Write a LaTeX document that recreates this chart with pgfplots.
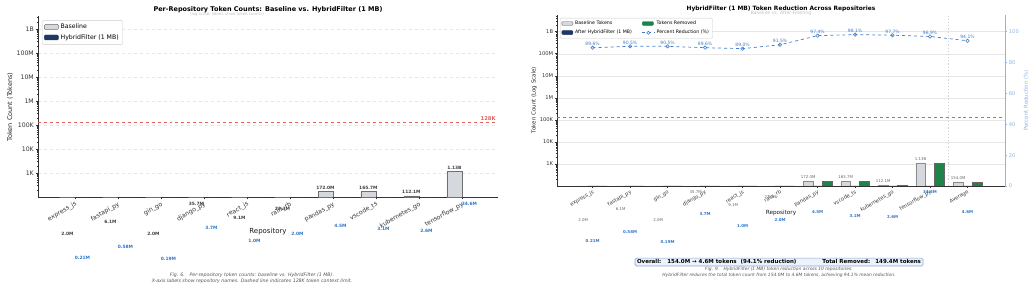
\documentclass[border=0pt]{standalone}
\usepackage{pgfplots}
\pgfplotsset{compat=1.18}
\usepackage{fontspec}
\setmainfont{DejaVu Sans}
\definecolor{bgrey}{HTML}{D5D8DC}
\definecolor{bedge}{HTML}{6E6E6E}
\definecolor{navy}{HTML}{1F3864}
\definecolor{dgreen}{HTML}{1E8449}
\definecolor{lblue}{HTML}{2E75C8}
\definecolor{pblue}{HTML}{3F7CCB}
\definecolor{rblue}{HTML}{8DB4E2}
\definecolor{rred}{HTML}{E06060}
\definecolor{capgrey}{HTML}{555555}
\definecolor{gridc}{HTML}{E6E6E6}
\definecolor{boxfill}{HTML}{EEF3FB}
\definecolor{boxedge}{HTML}{7FA6D8}
\newcommand{\fs}[1]{\fontsize{#1bp}{#1bp}\selectfont}
\pgfplotsset{
  lab/.style={draw=none, mark=none, forget plot, nodes near coords, point meta=explicit symbolic},
}
\begin{document}
\begin{tikzpicture}[x=1bp,y=1bp]
\useasboundingbox (0,0) rectangle (1032,291);

% ================= LEFT CHART =================
\begin{axis}[
  at={(38bp,94bp)}, anchor=south west, scale only axis, width=460bp, height=180.6bp,
  ymode=log, ymin=100, ymax=3.35e9, log origin=infty,
  xmin=-0.86, xmax=9.84,
  axis x line*=bottom, axis y line*=left,
  axis line style={-, draw=black!80, line width=0.6bp},
  tick align=outside, tick style={draw=black!80, line width=0.5bp},
  major tick length=2.5bp, minor tick length=1.4bp,
  xtick={0,...,9},
  xticklabels={express\_js, fastapi\_py, gin\_go, django\_py, react\_js, rails\_rb, pandas\_py, vscode\_ts, kubernetes\_go, tensorflow\_py},
  xticklabel style={rotate=30, anchor=north east, font=\fs{6.2}, text=black!80, inner sep=1bp},
  ytick={1e3,1e4,1e5,1e6,1e7,1e8,1e9}, yticklabels={1K,10K,100K,1M,10M,100M,1B},
  minor ytick={2e2,3e2,4e2,5e2,6e2,7e2,8e2,9e2,2e3,3e3,4e3,5e3,6e3,7e3,8e3,9e3,2e4,3e4,4e4,5e4,6e4,7e4,8e4,9e4,2e5,3e5,4e5,5e5,6e5,7e5,8e5,9e5,2e6,3e6,4e6,5e6,6e6,7e6,8e6,9e6,2e7,3e7,4e7,5e7,6e7,7e7,8e7,9e7,2e8,3e8,4e8,5e8,6e8,7e8,8e8,9e8,2e9,3e9},
  yticklabel style={font=\fs{6.2}, text=black!80, inner sep=1.5bp},
  ymajorgrids, major grid style={gridc, dashed, line width=0.4bp},
  legend style={at={(0,1)}, anchor=north west, xshift=4bp, yshift=-4bp, font=\fs{6.2},
    draw=black!20, rounded corners=1bp, inner xsep=2bp, inner ysep=1.5bp, row sep=0.4bp,
    legend cell align=left},
]
\addlegendimage{legend image code/.code={\draw[fill=bgrey, draw=bedge, line width=0.4bp] (0bp,-2.2bp) rectangle (14bp,2.8bp);}}
\addlegendentry{Baseline}
\addlegendimage{legend image code/.code={\draw[fill=navy, draw=navy, line width=0.4bp] (0bp,-2.2bp) rectangle (14bp,2.8bp);}}
\addlegendentry{HybridFilter (1 MB)}
% baseline tokens (M)
\addplot[ybar, bar width=0.35, bar shift=-0.175, fill=bgrey, draw=bedge, line width=0.5bp, forget plot]
  coordinates {(0,2.0) (1,6.1) (2,2.0) (3,35.7) (4,9.1) (5,22.3) (6,172.0) (7,165.7) (8,112.1) (9,1130)};
% hybrid filter tokens (M)
\addplot[ybar, bar width=0.35, bar shift=0.175, fill=navy, draw=navy, line width=0.5bp, forget plot]
  coordinates {(0,0.21) (1,0.58) (2,0.19) (3,3.7) (4,1.0) (5,2.0) (6,4.5) (7,3.1) (8,2.6) (9,34.6)};
\addplot[rred, dashed, line width=0.7bp, forget plot] coordinates {(-0.86,128000) (9.84,128000)};
\end{axis}
% left labels overlay
\begin{axis}[
  at={(38bp,94bp)}, anchor=south west, scale only axis, width=460bp, height=180.6bp,
  ymode=log, ymin=100, ymax=3.35e9, xmin=-0.86, xmax=9.84, hide axis, clip=false,
]
\addplot[lab, nodes near coords style={font=\bfseries\fs{4.4}, text=black!75, anchor=south, inner sep=0.5bp, yshift=1.5bp}]
  coordinates {(-0.175,2.0)[2.0M] (0.825,6.1)[6.1M] (1.825,2.0)[2.0M] (2.825,35.7)[35.7M] (3.825,9.1)[9.1M] (4.825,22.3)[22.3M] (5.825,172.0)[172.0M] (6.825,165.7)[165.7M] (7.825,112.1)[112.1M] (8.825,1130)[1.13B]};
\addplot[lab, nodes near coords style={font=\bfseries\fs{4.4}, text=lblue, anchor=south, inner sep=0.5bp, yshift=1.5bp}]
  coordinates {(0.175,0.21)[0.21M] (1.175,0.58)[0.58M] (2.175,0.19)[0.19M] (3.175,3.7)[3.7M] (4.175,1.0)[1.0M] (5.175,2.0)[2.0M] (6.175,4.5)[4.5M] (7.175,3.1)[3.1M] (8.175,2.6)[2.6M] (9.175,34.6)[34.6M]};
\node[anchor=south east, text=rred, font=\bfseries\fs{5.2}, inner sep=0.5bp] at (axis cs:9.8,150000) {128K};
\end{axis}

% ================= RIGHT CHART =================
\begin{axis}[
  at={(557bp,105bp)}, anchor=south west, scale only axis, width=448bp, height=171bp,
  ymode=log, ymin=100, ymax=5.7e9, log origin=infty,
  xmin=-0.95, xmax=11.0,
  axis x line*=bottom, axis y line*=left,
  axis line style={-, draw=black!80, line width=0.6bp},
  tick align=outside, tick style={draw=black!80, line width=0.5bp},
  major tick length=2.2bp, minor tick length=1.2bp,
  xtick={0,...,10},
  xticklabels={express\_js, fastapi\_py, gin\_go, django\_py, react\_js, rails\_rb, pandas\_py, vscode\_ts, kubernetes\_go, tensorflow\_py, Average},
  xticklabel style={rotate=30, anchor=north east, font=\fs{5.1}, text=black!80, inner sep=1bp},
  ytick={1e3,1e4,1e5,1e6,1e7,1e8,1e9}, yticklabels={1K,10K,100K,1M,10M,100M,1B},
  minor ytick={2e2,3e2,4e2,5e2,6e2,7e2,8e2,9e2,2e3,3e3,4e3,5e3,6e3,7e3,8e3,9e3,2e4,3e4,4e4,5e4,6e4,7e4,8e4,9e4,2e5,3e5,4e5,5e5,6e5,7e5,8e5,9e5,2e6,3e6,4e6,5e6,6e6,7e6,8e6,9e6,2e7,3e7,4e7,5e7,6e7,7e7,8e7,9e7,2e8,3e8,4e8,5e8,6e8,7e8,8e8,9e8,2e9,3e9,4e9,5e9},
  yticklabel style={font=\fs{5.2}, text=black!80, inner sep=1.5bp},
  ymajorgrids, major grid style={gridc, line width=0.4bp},
  legend columns=2,
  legend style={at={(0,1)}, anchor=north west, xshift=3bp, yshift=-3bp, font=\fs{4.7},
    draw=black!20, rounded corners=1bp, inner xsep=1.5bp, inner ysep=1bp, row sep=0bp,
    legend cell align=left, /tikz/every even column/.append style={column sep=8bp}},
]
\addlegendimage{legend image code/.code={\draw[fill=bgrey, draw=bedge, line width=0.4bp] (0bp,-1.8bp) rectangle (11bp,2.2bp);}}
\addlegendentry{Baseline Tokens}
\addlegendimage{legend image code/.code={\draw[fill=dgreen, draw=dgreen, line width=0.4bp] (0bp,-1.8bp) rectangle (11bp,2.2bp);}}
\addlegendentry{Tokens Removed}
\addlegendimage{legend image code/.code={\draw[fill=navy, draw=navy, line width=0.4bp] (0bp,-1.8bp) rectangle (11bp,2.2bp);}}
\addlegendentry{After HybridFilter (1 MB)}
\addlegendimage{legend image code/.code={\draw[pblue, dashed, line width=0.7bp] (0bp,0bp) -- (12bp,0bp); \draw[pblue, solid, fill=white, line width=0.6bp] (6bp,0bp) circle (1.6bp);}}
\addlegendentry{Percent Reduction (\%)}
\addplot[ybar, bar width=0.26, bar shift=-0.25, fill=bgrey, draw=black!45, line width=0.4bp, forget plot]
  coordinates {(0,2.0) (1,6.1) (2,2.0) (3,35.7) (4,9.1) (5,22.3) (6,172.0) (7,165.7) (8,112.1) (9,1130) (10,154.0)};
\addplot[ybar, bar width=0.26, bar shift=0, fill=navy, draw=navy, line width=0.4bp, forget plot]
  coordinates {(0,0.21) (1,0.58) (2,0.19) (3,3.7) (4,1.0) (5,2.0) (6,4.5) (7,3.1) (8,2.6) (9,34.6) (10,4.6)};
\addplot[ybar, bar width=0.26, bar shift=0.25, fill=dgreen, draw=black!60, line width=0.4bp, forget plot]
  coordinates {(0,1.79) (1,5.52) (2,1.81) (3,32.0) (4,8.1) (5,20.3) (6,167.5) (7,162.6) (8,109.5) (9,1095.4) (10,149.4)};
\addplot[rred, dashed, line width=0.6bp, forget plot] coordinates {(-0.95,128000) (11.0,128000)};
\addplot[black!18, dotted, line width=1.2bp, forget plot] coordinates {(9.5,100) (9.5,5.7e9)};
\end{axis}
% percent axis
\begin{axis}[
  at={(557bp,105bp)}, anchor=south west, scale only axis, width=448bp, height=171bp,
  xmin=-0.95, xmax=11.0, ymin=0, ymax=110.8,
  axis x line=none, axis y line*=right,
  axis line style={-, draw=rblue, line width=0.7bp},
  tick align=outside, tick style={draw=rblue, line width=0.5bp}, major tick length=2.2bp,
  ytick={0,20,40,60,80,100}, yticklabels={0,20,40,60,80,100},
  yticklabel style={font=\fs{5.2}, text=rblue, inner sep=1.5bp},
  ylabel={Percent Reduction (\%)},
  ylabel style={font=\fs{5.4}, text=rblue},
  clip=false,
]
\addplot[pblue, dashed, line width=0.7bp, mark=o, mark size=1.7bp, mark options={solid, fill=white, line width=0.6bp},
  nodes near coords, point meta=explicit symbolic,
  nodes near coords style={font=\fs{4.5}, text=pblue, anchor=south, inner sep=0.5bp, yshift=1.2bp}]
  coordinates {(0,89.6)[89.6\%] (1,90.5)[90.5\%] (2,90.5)[90.5\%] (3,89.6)[89.6\%] (4,89.0)[89.0\%] (5,91.5)[91.5\%] (6,97.4)[97.4\%] (7,98.1)[98.1\%] (8,97.7)[97.7\%] (9,96.9)[96.9\%] (10,94.1)[94.1\%]};
\end{axis}
% right labels overlay
\begin{axis}[
  at={(557bp,105bp)}, anchor=south west, scale only axis, width=448bp, height=171bp,
  ymode=log, ymin=100, ymax=5.7e9, xmin=-0.95, xmax=11.0, hide axis, clip=false,
]
\addplot[lab, nodes near coords style={font=\fs{3.9}, text=black!60, anchor=south, inner sep=0.5bp, yshift=1.5bp}]
  coordinates {(-0.25,2.0)[2.0M] (0.75,6.1)[6.1M] (1.75,2.0)[2.0M] (2.75,35.7)[35.7M] (3.75,9.1)[9.1M] (4.75,22.3)[22.3M] (5.75,172.0)[172.0M] (6.75,165.7)[165.7M] (7.75,112.1)[112.1M] (8.75,1130)[1.13B] (9.75,154.0)[154.0M]};
\addplot[lab, nodes near coords style={font=\bfseries\fs{4.0}, text=lblue, anchor=south, inner sep=0.5bp, yshift=1.5bp}]
  coordinates {(0,0.21)[0.21M] (1,0.58)[0.58M] (2,0.19)[0.19M] (3,3.7)[3.7M] (4,1.0)[1.0M] (5,2.0)[2.0M] (6,4.5)[4.5M] (7,3.1)[3.1M] (8,2.6)[2.6M] (9,34.6)[34.6M] (10,4.6)[4.6M]};
\end{axis}

% ================= TEXTS =================
% left
\node[font=\bfseries\fs{6.5}] at (268,281) {Per-Repository Token Counts: Baseline vs. HybridFilter (1 MB)};
\node[font=\fs{4}, text=black!25] at (227,277) {(log scale; labels show token counts)};
\node[rotate=90, font=\fs{6.5}, text=black!85] at (10,184) {Token Count (Tokens)};
\node[font=\fs{7}, text=black!90] at (268,59) {Repository};
\node[font=\itshape\fs{4.7}, text=capgrey] at (252,16) {Fig. 6.\quad Per-repository token counts: baseline vs. HybridFilter (1 MB).};
\node[font=\itshape\fs{4.7}, text=capgrey] at (252,9.5) {X-axis labels show repository names. Dashed line indicates 128K token context limit.};
% right
\node[font=\bfseries\fs{5.9}] at (781,282) {HybridFilter (1 MB) Token Reduction Across Repositories};
\node[font=\fs{4.6}, text=black!25] at (781,278) {Baseline vs. After Filtering};
\node[rotate=90, font=\fs{5.5}, text=black!85] at (534,191) {Token Count (Log Scale)};
\node[font=\fs{5.7}, text=black!90] at (781,78) {Repository};
\node[draw=boxedge, fill=boxfill, rounded corners=1.5bp, line width=0.6bp, inner xsep=2bp, inner ysep=1.5bp, font=\bfseries\fs{5.5}]
  at (779,29) {Overall:\hspace{6bp}154.0M → 4.6M tokens\hspace{4bp}(94.1\% reduction)\hspace{26bp}Total Removed:\hspace{5bp}149.4M tokens};
\node[font=\itshape\fs{4.4}, text=capgrey] at (779,21.5) {Fig. 9.\quad HybridFilter (1 MB) token reduction across 10 repositories.};
\node[font=\itshape\fs{4.4}, text=capgrey] at (779,15.5) {HybridFilter reduces the total token count from 154.0M to 4.6M tokens, achieving 94.1\% mean reduction.};
\end{tikzpicture}
\end{document}
